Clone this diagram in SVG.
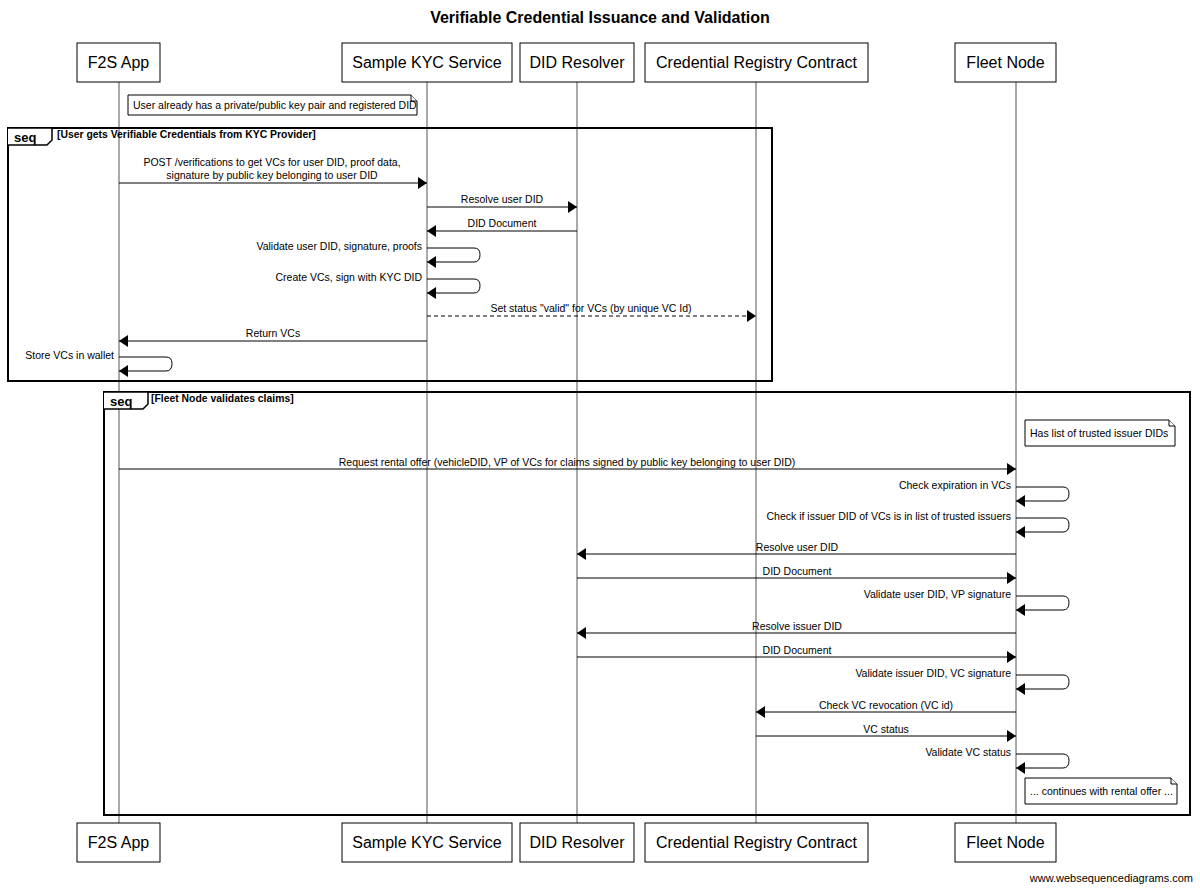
<svg xmlns="http://www.w3.org/2000/svg" width="1200" height="890" viewBox="0 0 1200 890">
<style>
text{font-family:"Liberation Sans",Arial,sans-serif;fill:#000}
.title{font-size:16px;font-weight:bold}
.pbox{fill:#fff;stroke:#000;stroke-width:1}
.pname{font-size:16px;text-anchor:middle}
.life{stroke:#555;stroke-width:1}
.msg{stroke:#000;stroke-width:1;fill:none}
.dash{stroke-dasharray:4,3}
.lbl{font-size:10.5px;text-anchor:middle}
.rl{font-size:10.5px;text-anchor:end}
.note{fill:#fff;stroke:#000;stroke-width:1}
.ntext{font-size:10.5px}
.frame{fill:none;stroke:#000;stroke-width:2}
.seq{font-size:13px;font-weight:bold}
.flbl{font-size:10.4px;font-weight:bold}
.wm{font-size:11px;text-anchor:end}
</style>
<defs>
<marker id="ah" markerUnits="userSpaceOnUse" markerWidth="10" markerHeight="14" refX="9" refY="7" orient="auto">
<path d="M0,1 L9,7 L0,13 z" fill="#000"/>
</marker>
</defs>
<text class="title" x="600" y="23" text-anchor="middle">Verifiable Credential Issuance and Validation</text>
<g id="lifelines">
<line class="life" x1="119" y1="82" x2="119" y2="823"/>
<line class="life" x1="427" y1="82" x2="427" y2="823"/>
<line class="life" x1="577" y1="82" x2="577" y2="823"/>
<line class="life" x1="756" y1="82" x2="756" y2="823"/>
<line class="life" x1="1016" y1="82" x2="1016" y2="823"/>
</g>
<g id="p-f2s">
<rect class="pbox" x="77" y="43" width="83" height="39"/><text class="pname" x="118.5" y="68">F2S App</text>
<rect class="pbox" x="77" y="823" width="83" height="39"/><text class="pname" x="118.5" y="848">F2S App</text>
</g>
<g id="p-kyc">
<rect class="pbox" x="342" y="43" width="170" height="39"/><text class="pname" x="427" y="68">Sample KYC Service</text>
<rect class="pbox" x="342" y="823" width="170" height="39"/><text class="pname" x="427" y="848">Sample KYC Service</text>
</g>
<g id="p-did">
<rect class="pbox" x="520" y="43" width="114" height="39"/><text class="pname" x="577" y="68">DID Resolver</text>
<rect class="pbox" x="520" y="823" width="114" height="39"/><text class="pname" x="577" y="848">DID Resolver</text>
</g>
<g id="p-crc">
<rect class="pbox" x="645" y="43" width="223" height="39"/><text class="pname" x="756.5" y="68">Credential Registry Contract</text>
<rect class="pbox" x="645" y="823" width="223" height="39"/><text class="pname" x="756.5" y="848">Credential Registry Contract</text>
</g>
<g id="p-fleet">
<rect class="pbox" x="955" y="43" width="101" height="39"/><text class="pname" x="1005.5" y="68">Fleet Node</text>
<rect class="pbox" x="955" y="823" width="101" height="39"/><text class="pname" x="1005.5" y="848">Fleet Node</text>
</g>
<g id="note1">
<path class="note" d="M128,95 H411 L417,101 V115 H128 Z"/><path class="note" d="M411,95 V101 H417"/>
<text class="ntext" x="133" y="109">User already has a private/public key pair and registered DID</text>
</g>
<g id="frame1">
<rect class="frame" x="8" y="128" width="764" height="253"/>
<path d="M8,128 H52 V140 L47,145 H8" fill="#fff" stroke="#000" stroke-width="1.5"/>
<text class="seq" x="14" y="142">seq</text>
<text class="flbl" x="57" y="138">[User gets Verifiable Credentials from KYC Provider]</text>
</g>
<g id="frame2">
<rect class="frame" x="104" y="392" width="1086" height="423"/>
<path d="M104,392 H148 V404 L143,409 H104" fill="#fff" stroke="#000" stroke-width="1.5"/>
<text class="seq" x="110" y="406">seq</text>
<text class="flbl" x="151" y="402">[Fleet Node validates claims]</text>
</g>
<g id="note2">
<path class="note" d="M1025,420 H1169 L1175,426 V446 H1025 Z"/><path class="note" d="M1169,420 V426 H1175"/>
<text class="ntext" x="1030" y="437">Has list of trusted issuer DIDs</text>
</g>
<g id="note3">
<path class="note" d="M1025,778 H1171 L1177,784 V804 H1025 Z"/><path class="note" d="M1171,778 V784 H1177"/>
<text class="ntext" x="1030" y="795">... continues with rental offer ...</text>
</g>
<g id="connectors">
<line class="msg" x1="119" y1="183" x2="427" y2="183" marker-end="url(#ah)"/>
<line class="msg" x1="427" y1="207" x2="577" y2="207" marker-end="url(#ah)"/>
<line class="msg" x1="577" y1="231" x2="427" y2="231" marker-end="url(#ah)"/>
<path class="msg" d="M427,248 H474 Q480,248 480,254.5 Q480,262 474,262 H427" marker-end="url(#ah)"/>
<path class="msg" d="M427,279 H474 Q480,279 480,285.5 Q480,293 474,293 H427" marker-end="url(#ah)"/>
<line class="msg dash" x1="427" y1="316" x2="756" y2="316" marker-end="url(#ah)"/>
<line class="msg" x1="427" y1="341" x2="119" y2="341" marker-end="url(#ah)"/>
<path class="msg" d="M119,357 H166 Q172,357 172,363.5 Q172,371 166,371 H119" marker-end="url(#ah)"/>
<line class="msg" x1="119" y1="469" x2="1016" y2="469" marker-end="url(#ah)"/>
<path class="msg" d="M1016,487 H1063 Q1069,487 1069,493.5 Q1069,501 1063,501 H1016" marker-end="url(#ah)"/>
<path class="msg" d="M1016,518 H1063 Q1069,518 1069,524.5 Q1069,532 1063,532 H1016" marker-end="url(#ah)"/>
<line class="msg" x1="1016" y1="554" x2="577" y2="554" marker-end="url(#ah)"/>
<line class="msg" x1="577" y1="578" x2="1016" y2="578" marker-end="url(#ah)"/>
<path class="msg" d="M1016,596 H1063 Q1069,596 1069,602.5 Q1069,610 1063,610 H1016" marker-end="url(#ah)"/>
<line class="msg" x1="1016" y1="633" x2="577" y2="633" marker-end="url(#ah)"/>
<line class="msg" x1="577" y1="657" x2="1016" y2="657" marker-end="url(#ah)"/>
<path class="msg" d="M1016,675 H1063 Q1069,675 1069,681.5 Q1069,689 1063,689 H1016" marker-end="url(#ah)"/>
<line class="msg" x1="1016" y1="712" x2="756" y2="712" marker-end="url(#ah)"/>
<line class="msg" x1="756" y1="736" x2="1016" y2="736" marker-end="url(#ah)"/>
<path class="msg" d="M1016,754 H1063 Q1069,754 1069,760.5 Q1069,768 1063,768 H1016" marker-end="url(#ah)"/>
</g>
<g id="labels">
<text class="lbl" x="272" y="166">POST /verifications to get VCs for user DID, proof data,</text>
<text class="lbl" x="272" y="179">signature by public key belonging to user DID</text>
<text class="lbl" x="502" y="203">Resolve user DID</text>
<text class="lbl" x="502" y="227">DID Document</text>
<text class="rl" x="422" y="250">Validate user DID, signature, proofs</text>
<text class="rl" x="422" y="281">Create VCs, sign with KYC DID</text>
<text class="lbl" x="591" y="312">Set status "valid" for VCs (by unique VC Id)</text>
<text class="lbl" x="273" y="337">Return VCs</text>
<text class="rl" x="114" y="359">Store VCs in wallet</text>
<text class="lbl" x="567" y="466">Request rental offer (vehicleDID, VP of VCs for claims signed by public key belonging to user DID)</text>
<text class="rl" x="1011" y="489">Check expiration in VCs</text>
<text class="rl" x="1011" y="520">Check if issuer DID of VCs is in list of trusted issuers</text>
<text class="lbl" x="797" y="551">Resolve user DID</text>
<text class="lbl" x="797" y="575">DID Document</text>
<text class="rl" x="1011" y="598">Validate user DID, VP signature</text>
<text class="lbl" x="797" y="630">Resolve issuer DID</text>
<text class="lbl" x="797" y="654">DID Document</text>
<text class="rl" x="1011" y="677">Validate issuer DID, VC signature</text>
<text class="lbl" x="886" y="709">Check VC revocation (VC id)</text>
<text class="lbl" x="886" y="733">VC status</text>
<text class="rl" x="1011" y="756">Validate VC status</text>
</g>
<text class="wm" x="1193" y="882">www.websequencediagrams.com</text>
</svg>
